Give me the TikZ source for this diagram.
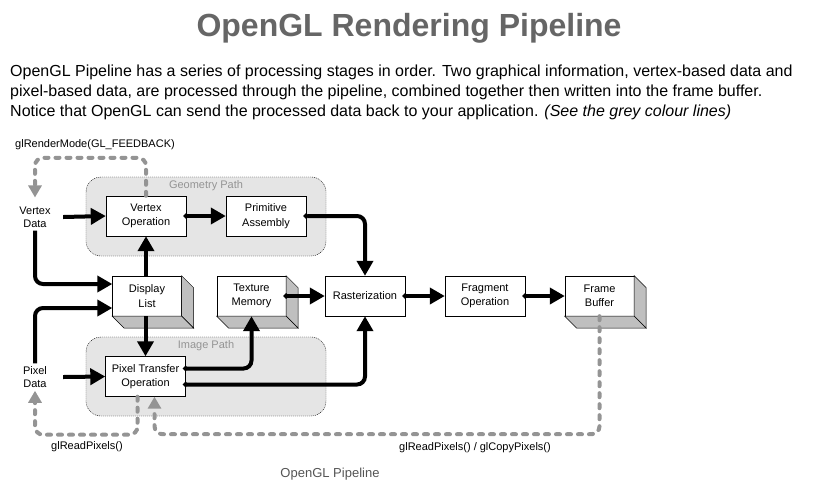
\documentclass[tikz,border=0pt]{standalone}
\usepackage{fontspec}
\setmainfont{Liberation Sans}
\usetikzlibrary{arrows.meta,calc}
\definecolor{titlegrey} {rgb}{0.4,0.4,0.4}
\definecolor{pathfill}  {rgb}{0.9,0.9,0.9}
\definecolor{slabgrey}  {rgb}{0.75,0.75,0.75}
\definecolor{backgrey}  {rgb}{0.58,0.58,0.58}
\definecolor{labelgrey} {rgb}{0.58,0.58,0.58}
\definecolor{captiongrey}{rgb}{0.33,0.33,0.33}
\tikzset{ % Setup for the pipeline
stagebox/.style={draw, fill=white, minimum width=80pt, minimum height=40pt, align=center, inner sep=0pt, font=\fontsize{11}{14.5}\selectfont},
storebox/.style={stagebox, minimum width=69pt},
slabface/.style={draw, fill=slabgrey, line width=0.5pt},
databox/.style={align=center, minimum width=56pt, inner sep=3pt, font=\fontsize{11}{13}\selectfont},
pathregion/.style={draw, fill=pathfill, rounded corners=15pt, dash pattern=on 1pt off 1pt, minimum width=240pt, minimum height=79pt},
pathlabel/.style={text=labelgrey, font=\fontsize{11}{13}\selectfont},
smalllabel/.style={font=\fontsize{11}{13}\selectfont},
flow/.style={line width=4pt, rounded corners=8pt, -{Triangle[length=15pt,width=16pt]}},
flowdot/.style={flow, {Circle[length=5pt]}-{Triangle[length=15pt,width=16pt]}, shorten <=-2.5pt},
feedback/.style={line width=4pt, draw=backgrey, rounded corners=8pt, line cap=round, dash pattern=on 4pt off 7pt, -{Triangle[length=12pt,width=13pt]}},
}
\newcommand{\slab}[1]{% grey side faces of a storage box
\draw[slabface] (#1.north east) -- ++(12,12) -- ($(#1.south east)+(12,12)$) -- (#1.south east) -- cycle;
\draw[slabface] (#1.south west) -- ++(12,12) -- ($(#1.south east)+(12,12)$) -- (#1.south east) -- cycle;
}

\begin{document}
\begin{tikzpicture}[x=1pt, y=-1pt]
\useasboundingbox (0,0) rectangle (818,483);

% heading and text
\node[anchor=base, text=titlegrey, font=\fontsize{32}{36}\selectfont\bfseries] (title) at (409,36) {OpenGL Rendering Pipeline};
\node[anchor=base west, inner sep=0pt, font=\fontsize{16}{20}\selectfont] (par1) at (10,76) {OpenGL Pipeline has a series of processing stages in order. Two graphical information, vertex-based data and};
\node[anchor=base west, inner sep=0pt, font=\fontsize{16}{20}\selectfont] (par2) at (10,96) {pixel-based data, are processed through the pipeline, combined together then written into the frame buffer.};
\node[anchor=base west, inner sep=0pt, font=\fontsize{16}{20}\selectfont] (par3) at (10,116) {Notice that OpenGL can send the processed data back to your application. \textit{(See the grey colour lines)}};

% the two paths
\node[pathregion] (geompath) at (206,216.5) {};
\node[pathregion] (imgpath) at (206,376.5) {};
\node[pathlabel] (geomlabel) at (206,186) {Geometry Path};
\node[pathlabel] (imglabel) at (206,346) {Image Path};

% stages
\node[databox] (vtxdata) at (35,217) {Vertex\\Data};
\node[databox] (pixdata) at (35,377) {Pixel\\Data};
\node[stagebox] (vtxop) at (146,216) {Vertex\\Operation};
\node[stagebox] (primasm) at (266,216) {Primitive\\Assembly};
\node[storebox] (dlist) at (147,296) {Display\\List};
\node[storebox] (texmem) at (251.5,296) {Texture\\Memory};
\node[stagebox] (raster) at (365,296) {Rasterization};
\node[stagebox] (fragop) at (485,296) {Fragment\\Operation};
\node[storebox] (framebuf) at (599.5,296) {Frame\\Buffer};
\node[stagebox] (pixop) at (145.5,376.5) {Pixel Transfer\\Operation};
\slab{dlist}
\slab{texmem}
\slab{framebuf}

% data flow
\draw[flow] (vtxdata.east) -- (vtxop.west);
\draw[flowdot] (vtxop.east) -- (primasm.west);
\draw[flowdot] (primasm.east) -| (raster.north);
\draw[flow] (vtxdata.south) |- ([yshift=12pt]dlist.west);
\draw[flow] (pixdata.north) |- ([yshift=-12pt]dlist.west);
\draw[flow] (dlist.north -| vtxop.south) -- (vtxop.south);
\draw[flow] (dlist.south -| pixop.north) -- (pixop.north);
\draw[flow] (pixdata.east) -- (pixop.west);
\draw[flowdot] ([yshift=8pt]pixop.east) -| (texmem.south);
\draw[flowdot] ([yshift=-8pt]pixop.east) -| (raster.south);
\draw[flowdot] (texmem.east) -- (raster.west);
\draw[flowdot] (raster.east) -- (fragop.west);
\draw[flowdot] (fragop.east) -- (framebuf.west);

% data sent back
\draw[feedback, shorten >=6pt] (vtxop.north) -- ++(0,-38) -| (vtxdata.north);
\draw[feedback] ([xshift=-8pt]pixop.south) -- ++(0,38) -| (pixdata.south);
\draw[feedback] (framebuf.south) -- ++(0,118) -| ([xshift=9pt]pixop.south);
\node[smalllabel] (modetext) at (95,145) {glRenderMode(GL\_FEEDBACK)};
\node[smalllabel] (readtext) at (87,447) {glReadPixels()};
\node[smalllabel] (copytext) at (475,448) {glReadPixels() / glCopyPixels()};

\node[text=captiongrey, font=\fontsize{13}{15}\selectfont] (caption) at (330,474) {OpenGL Pipeline};
\end{tikzpicture}
\end{document}
